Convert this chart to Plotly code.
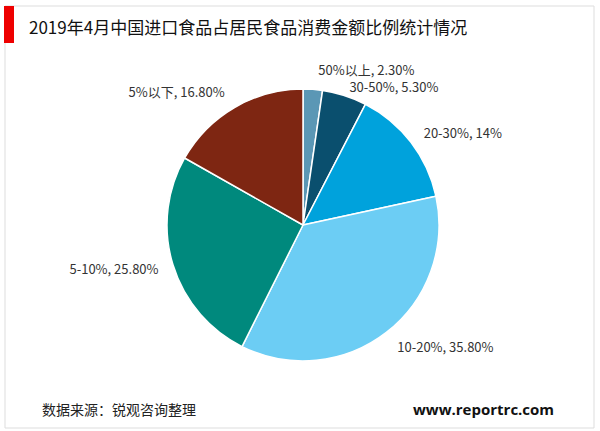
import plotly.graph_objects as go

categories = ["50%以上", "30-50%", "20-30%", "10-20%", "5-10%", "5%以下"]
values = [2.3, 5.3, 14.0, 35.8, 25.8, 16.8]
value_labels = ["2.30%", "5.30%", "14%", "35.80%", "25.80%", "16.80%"]
colors = ["#5B97B5", "#0A4F6E", "#00A2DC", "#6CCDF4", "#00897D", "#7E2612"]

title_text = "2019年4月中国进口食品占居民食品消费金额比例统计情况"
source_text = "数据来源：锐观咨询整理"
url_text = "www.reportrc.com"

W, H = 600, 431
font_family = "Noto Sans CJK SC, Microsoft YaHei, sans-serif"

texts = [f"{c}, {v}" for c, v in zip(categories, value_labels)]

cx, cy, r = 303, 225, 136


def dom(rad):
    return dict(x=[(cx - rad) / W, (cx + rad) / W], y=[(H - cy - rad) / H, (H - cy + rad) / H])


# visible pie, no text
pie_main = go.Pie(
    labels=categories,
    values=values,
    textinfo="none",
    sort=False,
    direction="clockwise",
    rotation=0,
    marker=dict(colors=colors, line=dict(color="white", width=1.5)),
    showlegend=False,
    hoverinfo="label+percent",
    domain=dom(r),
    automargin=False,
)


def label_pie(show_idx, rad):
    return go.Pie(
        labels=categories,
        values=values,
        text=texts,
        textinfo="text",
        texttemplate="%{text}",
        textposition=["outside" if i in show_idx else "none" for i in range(len(values))],
        sort=False,
        direction="clockwise",
        rotation=0,
        marker=dict(colors=["rgba(0,0,0,0)"] * len(values), line=dict(width=0)),
        outsidetextfont=dict(family=font_family, size=13, color="#333333"),
        showlegend=False,
        hoverinfo="skip",
        domain=dom(rad),
        automargin=False,
    )


fig = go.Figure([
    pie_main,
    label_pie([2, 3, 4, 5], r + 10),
    label_pie([0], r + 10),
    label_pie([1], r),
])

fig.update_layout(
    width=W, height=H,
    margin=dict(l=0, r=0, t=0, b=0),
    paper_bgcolor="white",
    plot_bgcolor="white",
    font=dict(family=font_family),
    shapes=[
        dict(type="rect", xref="paper", yref="paper",
             x0=5 / W, x1=594 / W, y0=1 - 428 / H, y1=1 - 6 / H,
             line=dict(color="#DDDDDD", width=1), fillcolor="rgba(0,0,0,0)"),
        dict(type="rect", xref="paper", yref="paper",
             x0=4 / W, x1=14 / W, y0=1 - 43 / H, y1=1 - 6 / H,
             line=dict(width=0), fillcolor="#EE0000"),
    ],
    annotations=[
        dict(text=title_text, x=27 / W, y=1 - 26 / H, xref="paper", yref="paper",
             xanchor="left", yanchor="middle", showarrow=False,
             font=dict(family=font_family, size=17, color="#111111")),
        dict(text=source_text, x=40 / W, y=1 - 409 / H, xref="paper", yref="paper",
             xanchor="left", yanchor="middle", showarrow=False,
             font=dict(family=font_family, size=14, color="#222222")),
        dict(text="<b>" + url_text + "</b>", x=556 / W, y=1 - 409 / H, xref="paper", yref="paper",
             xanchor="right", yanchor="middle", showarrow=False,
             font=dict(family="Open Sans, sans-serif", size=15, color="#111111")),
    ],
)

fig.write_html(
    "out.html",
    config={"displayModeBar": False},
    post_script="document.body.style.margin='0';document.body.style.padding='0';",
)
